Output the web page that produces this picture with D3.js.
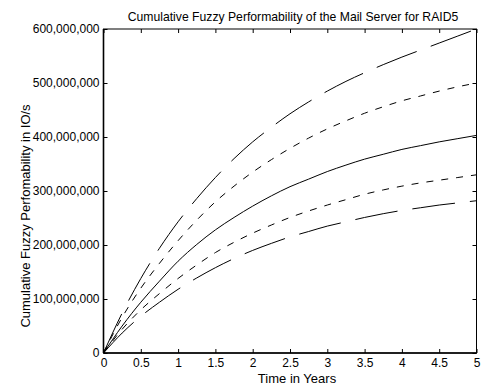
<!DOCTYPE html>
<html>
<head>
<meta charset="utf-8">
<script src="https://cdn.jsdelivr.net/npm/d3@7"></script>
<style>
  body { margin: 0; background: #fff; }
  svg { display: block; font-family: "Liberation Sans", Arial, sans-serif; }
</style>
</head>
<body>
<svg id="chart" width="482" height="385"></svg>
<script>
// time axis, years
const years = [0, 0.25, 0.5, 0.75, 1, 1.25, 1.5, 1.75, 2, 2.25, 2.5, 2.75, 3,
  3.25, 3.5, 3.75, 4, 4.25, 4.5, 4.75, 5];

// cumulative performability, in millions of IO/s
const upperLong = [0, 74, 138, 194, 243, 286, 325, 360, 391, 418, 443, 465, 485,
  503, 519, 534, 548, 561, 574, 587, 600];
const upperShort = [0, 66, 120, 166, 208, 246, 280, 309, 335, 358, 379, 398, 415,
  430, 444, 456, 467, 476, 485, 493, 500];
const middle = [0, 50, 94, 133, 170, 201, 228, 251, 272, 291, 308, 322, 336,
  348, 359, 368, 377, 384, 391, 397, 403];
const lowerShort = [0, 44, 80, 110, 138, 163, 186, 205, 222, 237, 251, 263, 274,
  284, 294, 302, 309, 315, 320, 325, 330];
const lowerLong = [0, 37, 68, 94, 118, 139, 158, 175, 190, 203, 215, 225, 235,
  243, 251, 258, 264, 269, 274, 278, 282];

const xTicks = [0, 0.5, 1, 1.5, 2, 2.5, 3, 3.5, 4, 4.5, 5];
const yTicks = [0, 100, 200, 300, 400, 500, 600];

const series = [
  { values: upperLong, dash: "43,15" },
  { values: upperShort, dash: "7,8" },
  { values: middle, dash: null },
  { values: lowerShort, dash: "7,8" },
  { values: lowerLong, dash: "43,15" },
];

const svg = d3.select("#chart");
const plotL = 103.5, plotR = 476.5, plotT = 29, plotB = 353;

const x = d3.scaleLinear().domain([0, 5]).range([plotL, plotR]);
const y = d3.scaleLinear().domain([0, 600]).range([plotB, plotT]);

svg.append("rect").attr("width", 482).attr("height", 385).attr("fill", "#fff");

// curves
const line = d3.line()
  .x((d, i) => x(years[i]))
  .y((d) => y(d))
  .curve(d3.curveMonotoneX);

svg.append("g")
  .selectAll("path")
  .data(series)
  .enter()
  .append("path")
  .attr("d", (s) => line(s.values))
  .attr("fill", "none")
  .attr("stroke", "#000")
  .attr("stroke-width", 1)
  .attr("stroke-dasharray", (s) => s.dash);

// axes, ticks pointing inward on all four sides
const fmtY = (d) => d3.format(",")(d * 1e6);

svg.append("g")
  .attr("transform", "translate(0," + plotB + ")")
  .call(d3.axisBottom(x).tickValues(xTicks).tickFormat((d) => String(d))
    .tickSizeInner(-4).tickSizeOuter(0).tickPadding(5));

svg.append("g")
  .attr("transform", "translate(0," + plotT + ")")
  .call(d3.axisTop(x).tickValues(xTicks).tickFormat("")
    .tickSizeInner(-4).tickSizeOuter(0));

svg.append("g")
  .attr("transform", "translate(" + plotL + ",0)")
  .call(d3.axisLeft(y).tickValues(yTicks).tickFormat(fmtY)
    .tickSizeInner(-4).tickSizeOuter(0).tickPadding(4));

svg.append("g")
  .attr("transform", "translate(" + plotR + ",0)")
  .call(d3.axisRight(y).tickValues(yTicks).tickFormat("")
    .tickSizeInner(-4).tickSizeOuter(0));

svg.selectAll(".domain").remove();
svg.selectAll(".tick line").attr("stroke", "#000");
svg.selectAll(".tick text")
  .attr("fill", "#000")
  .style("font-size", "12px")
  .style("font-family", "'Liberation Sans', Arial, sans-serif");

// frame
svg.append("rect")
  .attr("x", plotL).attr("y", plotT)
  .attr("width", plotR - plotL).attr("height", plotB - plotT)
  .attr("fill", "none").attr("stroke", "#000").attr("stroke-width", 1);
svg.append("line")
  .attr("x1", plotL).attr("x2", plotL).attr("y1", plotT).attr("y2", plotB)
  .attr("stroke", "#000").attr("stroke-width", 1.6);
svg.append("line")
  .attr("x1", plotL).attr("x2", plotR).attr("y1", plotB).attr("y2", plotB)
  .attr("stroke", "#000").attr("stroke-width", 1.6);

// titles
svg.append("text")
  .attr("x", 293).attr("y", 20.5)
  .attr("text-anchor", "middle")
  .style("font-size", "12.2px")
  .text("Cumulative Fuzzy Performability of the Mail Server for RAID5");

svg.append("text")
  .attr("x", 297).attr("y", 383)
  .attr("text-anchor", "middle")
  .style("font-size", "13px")
  .text("Time in Years");

svg.append("text")
  .attr("transform", "translate(30,216) rotate(-90)")
  .attr("text-anchor", "middle")
  .style("font-size", "13px")
  .text("Cumulative Fuzzy Perfomability in IO/s");
</script>
</body>
</html>
